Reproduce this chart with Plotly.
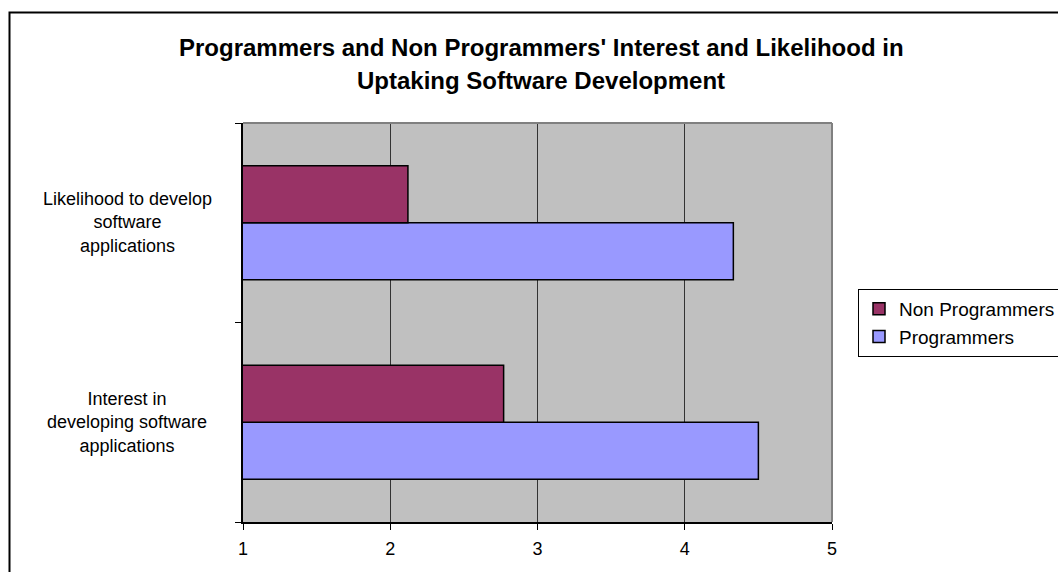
import plotly.graph_objects as go

categories = ["Interest in developing software applications",
              "Likelihood to develop software applications"]
category_labels = ["Interest in<br>developing software<br>applications",
                   "Likelihood to develop<br>software<br>applications"]
programmers = [4.50, 4.33]
non_programmers = [2.77, 2.12]
x_ticks = [1, 2, 3, 4, 5]
title_lines = ["Programmers and Non Programmers' Interest and Likelihood in",
               "Uptaking Software Development"]

FONT = "Liberation Sans, Arial, sans-serif"

# plot area in pixels
L, R, T, B = 243, 832, 123, 522
W, H = 1058, 572
pw, ph = R - L, B - T

def px2x(px):
    return (px - L) / pw

def px2y(py):
    return (B - py) / ph

fig = go.Figure()
fig.add_trace(go.Bar(
    y=categories, x=programmers, orientation="h", name="Programmers",
    marker=dict(color="#9999FF", line=dict(color="#000000", width=1.5)),
))
fig.add_trace(go.Bar(
    y=categories, x=non_programmers, orientation="h", name="Non Programmers",
    marker=dict(color="#993366", line=dict(color="#000000", width=1.5)),
))

annotations = []
for cat, lab in zip(categories, category_labels):
    annotations.append(dict(
        x=px2x(127), xref="paper", y=cat, yref="y", text=lab, showarrow=False,
        xanchor="center", yanchor="middle", align="center",
        font=dict(family=FONT, size=18, color="#000000"),
    ))
for line, py in zip(title_lines, [47, 81]):
    annotations.append(dict(
        x=px2x(541), xref="paper", y=px2y(py), yref="paper", text="<b>" + line + "</b>",
        showarrow=False, xanchor="center", yanchor="middle",
        font=dict(family=FONT, size=24, color="#000000"),
    ))

shapes = [
    # outer chart border
    dict(type="rect", xref="paper", yref="paper",
         x0=px2x(9.5), x1=px2x(1070), y0=px2y(590), y1=px2y(12.5),
         line=dict(color="#000000", width=2), fillcolor="rgba(0,0,0,0)", layer="below"),
    # plot area top and right borders (gray)
    dict(type="line", xref="paper", yref="paper", x0=0, x1=1, y0=1, y1=1,
         line=dict(color="#808080", width=2)),
    dict(type="line", xref="paper", yref="paper", x0=1, x1=1, y0=0, y1=1,
         line=dict(color="#808080", width=2)),
]

fig.update_layout(
    width=W, height=H,
    margin=dict(l=L, r=W - R, t=T, b=H - B, pad=0, autoexpand=False),
    paper_bgcolor="#FFFFFF", plot_bgcolor="#C0C0C0",
    barmode="group", bargap=0.4286, bargroupgap=0,
    font=dict(family=FONT, size=17, color="#000000"),
    showlegend=True,
    legend=dict(
        x=px2x(858), y=px2y(289), xanchor="left", yanchor="top",
        bgcolor="#FFFFFF", bordercolor="#000000", borderwidth=1,
        traceorder="reversed", font=dict(family=FONT, size=19, color="#000000"),
        itemwidth=30, tracegroupgap=0,
    ),
    annotations=annotations,
    shapes=shapes,
)
fig.update_xaxes(
    range=[1, 5], tickvals=x_ticks, ticktext=[str(v) for v in x_ticks],
    showgrid=True, gridcolor="#333333", gridwidth=1,
    showline=True, linecolor="#000000", linewidth=1.5,
    ticks="outside", ticklen=6, tickcolor="#000000", tickwidth=1,
    ticklabelstandoff=4,
    tickfont=dict(family=FONT, size=18, color="#000000"),
    zeroline=False, fixedrange=True,
)
fig.update_yaxes(
    type="category", categoryorder="array", categoryarray=categories,
    showticklabels=False, tickson="boundaries",
    ticks="outside", ticklen=6, tickcolor="#000000", tickwidth=1,
    showline=True, linecolor="#000000", linewidth=1.5,
    showgrid=False, zeroline=False, fixedrange=True,
)

fig.write_html("out.html")
